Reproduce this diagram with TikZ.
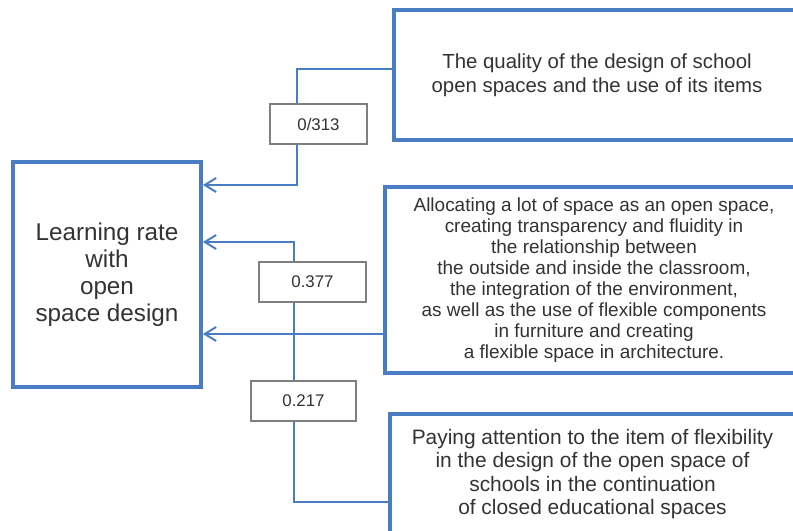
\documentclass[tikz,border=0pt]{standalone}
\usepackage{fontspec}
\setsansfont{Liberation Sans}
\usepackage{xcolor}
\usetikzlibrary{arrows.meta, positioning}
\definecolor{boxblue}{HTML}{4A7CC4}
\definecolor{txtgray}{HTML}{333333}
\definecolor{labgray}{HTML}{7F7F7F}

\begin{document}
\begin{tikzpicture}[
    x=0.02cm, y=-0.02cm,
    font=\sffamily,
    text=txtgray,
    >={Straight Barb[length=6.5pt, width=8pt]},
    bigbox/.style={rectangle, draw=boxblue, line width=2.2pt, fill=white, align=center},
    weight/.style={rectangle, draw=labgray, line width=0.8pt, fill=white, minimum height=0.8cm, font=\sffamily\fontsize{9.6}{11}\selectfont},
    link/.style={draw=boxblue, line width=1.1pt},
]
    \useasboundingbox (0,0) rectangle (793,530);
    \clip (0,0) rectangle (793,530);

    % Dependent variable
    \node[bigbox, minimum width=3.76cm, minimum height=4.5cm, font=\sffamily\fontsize{13.8}{15.3}\selectfont] (learn) at (107,274.5)
        {Learning rate\\with\\open\\space design};

    % Factors
    \node[bigbox, minimum width=8.12cm, minimum height=2.6cm, font=\sffamily\fontsize{11.6}{13.6}\selectfont] (quality) at (597,75)
        {The quality of the design of school\\open spaces and the use of its items};
    \node[bigbox, minimum width=8.36cm, minimum height=3.72cm, font=\sffamily\fontsize{10.8}{12}\selectfont] (alloc) at (594,280)
        {Allocating a lot of space as an open space,\\creating transparency and fluidity in\\the relationship between\\the outside and inside the classroom,\\the integration of the environment,\\as well as the use of flexible components\\in furniture and creating\\a flexible space in architecture.};
    \node[bigbox, minimum width=8.1cm, minimum height=2.4cm, font=\sffamily\fontsize{11.9}{13.2}\selectfont] (flex) at (592.5,474)
        {Paying attention to the item of flexibility\\in the design of the open space of\\schools in the continuation\\of closed educational spaces};

    % Links
    \draw[link, ->] (quality.west |- 0,69) -| (297,185) -- (learn.east |- 0,185);
    \draw[link, ->] (alloc.west |- 0,334) -- (learn.east |- 0,334);
    \draw[link, ->] (flex.west |- 0,502) -| (294,242) -- (learn.east |- 0,242);

    % Weights
    \node[weight, minimum width=1.94cm] (w1) at (318.5,124) {0/313};
    \node[weight, minimum width=2.14cm] (w2) at (312.5,282) {0.377};
    \node[weight, minimum width=2.1cm] (w3) at (303.5,401) {0.217};

\end{tikzpicture}
\end{document}
